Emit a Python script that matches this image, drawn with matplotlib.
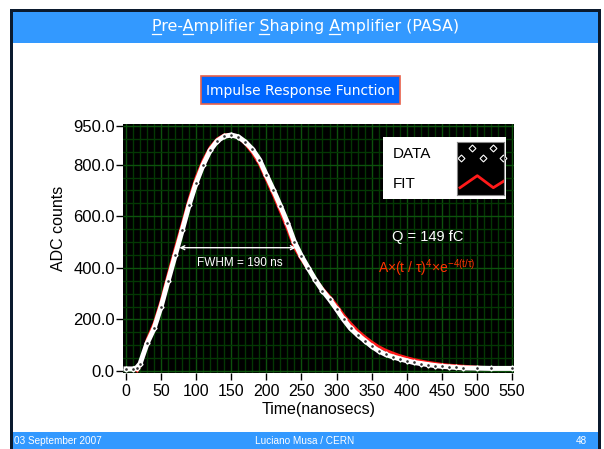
import matplotlib
matplotlib.use("Agg")
import matplotlib.pyplot as plt
from matplotlib.patches import Rectangle
from matplotlib.lines import Line2D
import numpy as np

# measured pulse (ADC counts vs ns)
time_ns = [0, 10, 15, 20, 30, 40, 50, 60, 70, 80, 90, 100, 110, 120, 130, 140, 150,
           160, 170, 180, 190, 200, 210, 220, 230, 240, 250, 260, 270, 280, 290, 300,
           310, 320, 330, 340, 350, 360, 370, 380, 390, 400, 410, 420, 430, 440, 450,
           460, 470, 480, 500, 520, 550]
adc_data = [8, 8, 12, 28, 107, 165, 250, 350, 448, 545, 645, 730, 800, 856, 892, 910, 915,
            908, 888, 860, 820, 760, 702, 640, 575, 500, 445, 398, 352, 312, 278, 240,
            200, 165, 140, 118, 96, 78, 64, 55, 47, 40, 33, 29, 25, 21, 18,
            16, 14, 12, 11, 10, 10]

# fitted shaping function
fit_time = [16, 20, 30, 40, 50, 60, 70, 80, 90, 100, 110, 120, 130, 140, 150, 160, 170,
            180, 190, 200, 210, 220, 230, 240, 250, 260, 270, 280, 290, 300, 310, 320,
            330, 340, 350, 360, 370, 380, 390, 400, 410, 420, 430, 440, 450, 460, 480,
            500, 525, 550]
fit_adc = [0, 20, 122, 185, 272, 375, 475, 570, 668, 752, 818, 868, 900, 916, 917, 906, 880,
           846, 802, 742, 682, 618, 550, 478, 432, 392, 356, 320, 290, 256, 218, 185,
           157, 134, 113, 95, 81, 70, 60, 52, 45, 39, 34, 30, 26, 23, 19,
           15, 12, 10]

y_ticks = [0, 200, 400, 600, 800, 950]
x_ticks = list(range(0, 551, 50))
fwhm_ns = (76, 242)
fwhm_level = 478

W, H = 604, 449
HEAD_BLUE = '#3399ff'
FRAME = '#0b1a2e'

plt.rcParams['font.family'] = ['Liberation Sans', 'DejaVu Sans']
plt.rcParams['mathtext.default'] = 'regular'


def fx(x):
    return x / W


def fy(y):
    return 1 - y / H


def rect_px(x0, y0, x1, y1, **kw):
    fig.patches.append(Rectangle((fx(x0), fy(y1)), (x1 - x0) / W, (y1 - y0) / H,
                                 transform=fig.transFigure, **kw))


fig = plt.figure(figsize=(W / 100, H / 100), dpi=100)
fig.patch.set_facecolor('white')

# slide frame, header and footer
rect_px(10, 9, 601, 449, facecolor=FRAME, edgecolor='none', zorder=-3)
rect_px(13, 12, 598, 449, facecolor='white', edgecolor='none', zorder=-2)
rect_px(13, 12, 598, 43, facecolor=HEAD_BLUE, edgecolor='none', zorder=-1)
rect_px(13, 432, 598, 449, facecolor=HEAD_BLUE, edgecolor='none', zorder=-1)

title = 'Pre-Amplifier Shaping Amplifier (PASA)'
t_title = fig.text(fx(305.5), fy(30.7), title, ha='center', va='baseline',
                   color='white', fontsize=11, family='DejaVu Sans')
fig.canvas.draw()
r = fig.canvas.get_renderer()
bb = t_title.get_window_extent(r)
t_title.set_fontsize(11 * 308 / bb.width)
fig.canvas.draw()
bb = t_title.get_window_extent(r)


def text_w(s):
    tmp = fig.text(0, 0, s, fontsize=t_title.get_fontsize(), family='DejaVu Sans')
    w = tmp.get_window_extent(r).width
    tmp.remove()
    return w


# underline the letters that make up the acronym
for i in [0, 4, 14, 22]:
    x0 = bb.x0 + text_w(title[:i]) if i else bb.x0
    x1 = bb.x0 + text_w(title[:i + 1])
    fig.lines.append(Line2D([x0 / W, x1 / W], [fy(33.5)] * 2, transform=fig.transFigure,
                            color='white', lw=0.9))

# "Impulse Response Function" box
rect_px(201, 76, 400, 104, facecolor='#0066ff', edgecolor='#e8604a', lw=1.2, zorder=1)
fig.text(fx(300.5), fy(90.5), 'Impulse Response Function', ha='center', va='center',
         color='white', fontsize=10, family='DejaVu Sans')

# footer
fig.text(fx(14), fy(441), '03 September 2007', ha='left', va='center', color='white', fontsize=7.2)
fig.text(fx(305), fy(441), 'Luciano Musa / CERN', ha='center', va='center', color='white', fontsize=7.2)
fig.text(fx(587), fy(441), '48', ha='right', va='center', color='white', fontsize=7.2)

# plot
ax = fig.add_axes([fx(123), fy(373), (514 - 123) / W, (373 - 124.3) / H])
ax.set_facecolor('black')
ax.set_xlim(-4.3, 552.9)
ax.set_ylim(-7.8, 956.5)

ax.set_xticks(x_ticks)
ax.set_xticks(np.arange(0, 551, 10), minor=True)
ax.set_yticks(y_ticks)
ax.set_yticks(np.arange(0, 951, 50), minor=True)
ax.set_yticklabels([f'{v:.1f}' for v in y_ticks], fontsize=12)
ax.set_xticklabels([str(v) for v in x_ticks], fontsize=11.5)
ax.tick_params(axis='both', which='major', length=5, width=1, color='black', direction='out')
ax.tick_params(axis='y', which='major', pad=1)
ax.tick_params(axis='x', which='major', pad=3)
ax.tick_params(axis='both', which='minor', length=0)
ax.grid(which='major', color='#0d520d', lw=1)
ax.grid(which='minor', color='#043804', lw=1)
ax.set_axisbelow(True)
for s in ax.spines.values():
    s.set_visible(False)

ax.set_xlabel('Time(nanosecs)', fontsize=11.5, labelpad=2)
ax.set_ylabel('ADC counts', fontsize=11.5)
ax.yaxis.set_label_coords(-0.147, 0.58)

ax.plot(fit_time, fit_adc, color='#ff1a1a', lw=2, zorder=2)
ax.plot(time_ns, adc_data, color='white', lw=3.6, zorder=3)
ax.plot(time_ns, adc_data, ls='none', marker='D', ms=2.6, mfc='white', mec='white',
        zorder=4)
ax.plot(time_ns, adc_data, ls='none', marker='.', ms=1.8, color='#333333', zorder=5)

ax.annotate('', xy=(fwhm_ns[0], fwhm_level), xytext=(fwhm_ns[1], fwhm_level),
            arrowprops=dict(arrowstyle='<->', color='white', lw=1, shrinkA=0, shrinkB=0,
                            mutation_scale=7))
ax.text(sum(fwhm_ns) / 2 + 3, fwhm_level - 58, 'FWHM = 190 ns', color='white', fontsize=8.5,
        ha='center', va='center')

fig.text(fx(392), fy(237), 'Q = 149 fC', color='white', fontsize=10.5, ha='left', va='center')
fig.text(fx(378), fy(268), r'A×(t / τ)$^4$×e$^{-4(t/τ)}$', color='#ff3300', fontsize=10,
         ha='left', va='center')

# legend box
rect_px(383, 137, 506, 199, facecolor='white', edgecolor='none', zorder=5)
fig.text(fx(393), fy(154), 'DATA', color='black', fontsize=11, ha='left', va='center', zorder=6)
fig.text(fx(393), fy(184), 'FIT', color='black', fontsize=11, ha='left', va='center', zorder=6)
sw = fig.add_axes([fx(457), fy(195), 47 / W, 53 / H], zorder=7)
sw.set_facecolor('black')
sw.set_xlim(0, 47)
sw.set_ylim(53, 0)
sw.set_xticks([])
sw.set_yticks([])
for s in sw.spines.values():
    s.set_color('#888888')
    s.set_linewidth(0.8)
sw.plot([14.7, 36.3, 3.7, 25.7, 46], [5.7, 5.7, 16.3, 16.3, 16.3], ls='none', marker='D',
        ms=3.5, mfc='black', mec='white', mew=0.8, clip_on=False)
sw.plot([3, 20.3, 36.3, 47], [45.7, 33.7, 45.7, 39], color='#ff1a1a', lw=2)

fig.savefig('out.png', dpi=100)
